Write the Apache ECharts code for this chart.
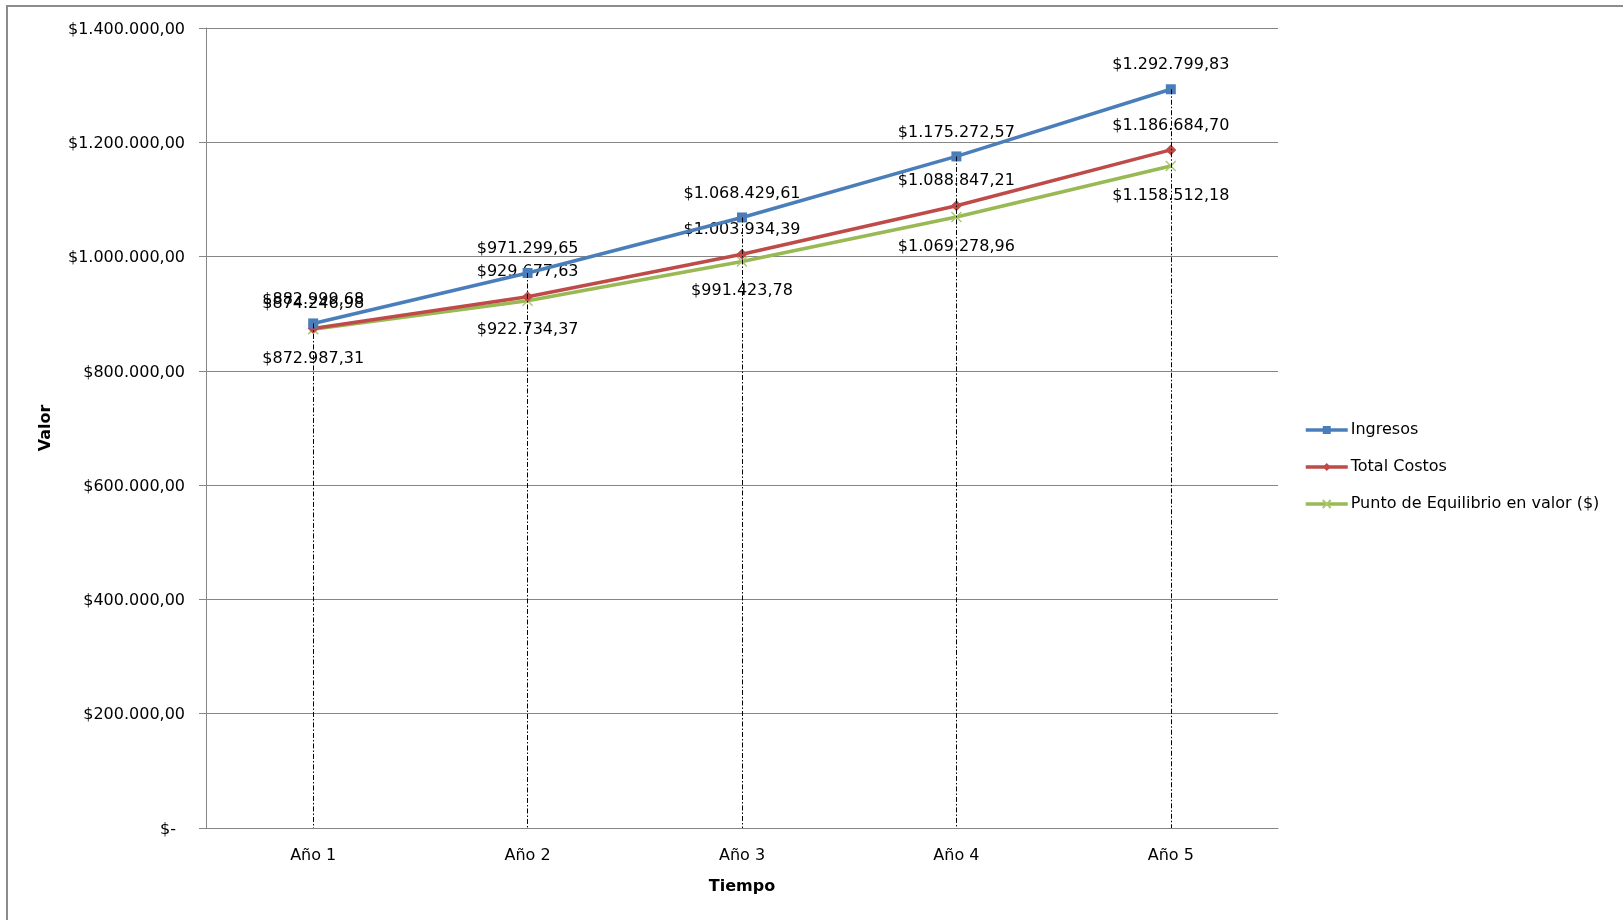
<!DOCTYPE html>
<html>
<head>
<meta charset="utf-8">
<script src="https://cdn.jsdelivr.net/npm/echarts@6/dist/echarts.min.js"></script>
<style>
  html, body { margin: 0; padding: 0; background: #ffffff; }
  #chart { width: 1623px; height: 920px; }
</style>
</head>
<body>
<div id="chart"></div>
<script>
// Categories and series values
const categories = ['Año 1', 'Año 2', 'Año 3', 'Año 4', 'Año 5'];
const ingresos = [882999.68, 971299.65, 1068429.61, 1175272.57, 1292799.83];
const totalCostos = [874246.98, 929677.63, 1003934.39, 1088847.21, 1186684.70];
const puntoEquilibrio = [872987.31, 922734.37, 991423.78, 1069278.96, 1158512.18];
const seriesNames = ['Ingresos', 'Total Costos', 'Punto de Equilibrio en valor ($)'];
const yTicks = { min: 0, max: 1400000, step: 200000 };

const FONT = 'DejaVu Sans';
const FS = 16;

// Money format with "." thousands and "," decimals
function money(v) {
  const parts = v.toFixed(2).split('.');
  const intPart = parts[0].replace(/\B(?=(\d{3})+(?!\d))/g, '.');
  return '$' + intPart + ',' + parts[1];
}

// Drop lines from the highest point of each category to the axis
const dropLines = categories.map((c, i) => {
  const top = Math.max(ingresos[i], totalCostos[i], puntoEquilibrio[i]);
  return [{ coord: [c, top] }, { coord: [c, 0] }];
});

const chart = echarts.init(document.getElementById('chart'));

const labelBase = {
  show: true,
  color: '#000',
  fontFamily: FONT,
  fontSize: FS,
  formatter: p => money(p.value)
};

chart.setOption({
  animation: false,
  backgroundColor: '#ffffff',
  textStyle: { fontFamily: FONT },
  graphic: [{
    type: 'rect',
    shape: { x: 7, y: 6, width: 1700, height: 1000 },
    style: { fill: 'none', stroke: '#8c8c8c', lineWidth: 2 },
    silent: true,
    z: -10
  }],
  grid: { left: 206, top: 28, right: 345, bottom: 92 },
  legend: {
    orient: 'vertical',
    left: 1299,
    top: 417,
    itemWidth: 42,
    itemHeight: 10,
    itemGap: 21,
    lineStyle: { width: 3.5 },
    textStyle: { fontFamily: FONT, fontSize: FS, color: '#000', padding: [0, 0, 0, -2] },
    data: seriesNames
  },
  xAxis: {
    type: 'category',
    data: categories,
    boundaryGap: true,
    name: 'Tiempo',
    nameLocation: 'middle',
    nameGap: 51,
    nameTextStyle: { fontFamily: FONT, fontSize: FS, fontWeight: 'bold', color: '#000' },
    axisLine: { lineStyle: { color: '#868686', width: 1 } },
    axisTick: { show: false },
    axisLabel: { color: '#000', fontFamily: FONT, fontSize: FS, margin: 20 }
  },
  yAxis: {
    type: 'value',
    min: yTicks.min,
    max: yTicks.max,
    interval: yTicks.step,
    name: 'Valor',
    nameLocation: 'middle',
    nameRotate: 90,
    nameGap: 152,
    nameTextStyle: { fontFamily: FONT, fontSize: FS, fontWeight: 'bold', color: '#000' },
    axisLine: { show: true, lineStyle: { color: '#868686', width: 1 } },
    axisTick: { show: true, length: 7, lineStyle: { color: '#868686' } },
    splitLine: { lineStyle: { color: '#868686', width: 1 } },
    axisLabel: {
      color: '#000',
      fontFamily: FONT,
      fontSize: FS,
      margin: 21,
      padding: [3, 0, 0, 0],
      formatter: v => v === 0 ? '{z|$-}' : money(v),
      rich: { z: { fontFamily: FONT, fontSize: FS, color: '#000', padding: [0, 9, 0, 0] } }
    }
  },
  series: [
    {
      name: seriesNames[0],
      type: 'line',
      data: ingresos,
      color: '#4A7EBB',
      symbol: 'rect',
      symbolSize: 10,
      lineStyle: { width: 3.5, color: '#4A7EBB' },
      itemStyle: { color: '#4A7EBB' },
      label: Object.assign({}, labelBase, { position: 'top', distance: 11 }),
      z: 4,
      markLine: {
        silent: true,
        symbol: ['none', 'none'],
        label: { show: false },
        lineStyle: { color: '#000', width: 1, type: [5, 2, 1.5, 2] },
        data: dropLines,
        z: 6
      }
    },
    {
      name: seriesNames[1],
      type: 'line',
      data: totalCostos,
      color: '#BE4B48',
      symbol: 'diamond',
      symbolSize: 11,
      lineStyle: { width: 3.5, color: '#BE4B48' },
      itemStyle: { color: '#BE4B48' },
      label: Object.assign({}, labelBase, { position: 'top', distance: 11 }),
      z: 3
    },
    {
      name: seriesNames[2],
      type: 'line',
      data: puntoEquilibrio,
      color: '#98B954',
      symbol: 'path://M0,0L10,10M10,0L0,10',
      symbolSize: 10,
      lineStyle: { width: 3.5, color: '#98B954' },
      itemStyle: { color: 'none', borderColor: '#A9C870', borderWidth: 1.5 },
      label: Object.assign({}, labelBase, { position: 'bottom', distance: 14 }),
      z: 2
    }
  ]
});
</script>
</body>
</html>
